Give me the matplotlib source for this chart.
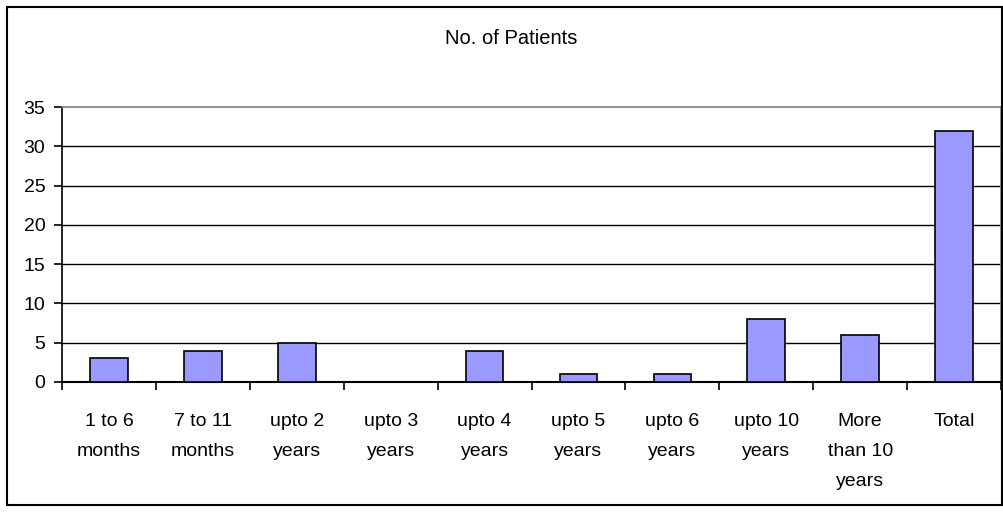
import matplotlib
matplotlib.use("Agg")
import matplotlib.pyplot as plt
from matplotlib.patches import Rectangle
import numpy as np

categories = ["1 to 6\nmonths", "7 to 11\nmonths", "upto 2\nyears", "upto 3\nyears",
              "upto 4\nyears", "upto 5\nyears", "upto 6\nyears", "upto 10\nyears",
              "More\nthan 10\nyears", "Total"]
patients = [3, 4, 5, 0, 4, 1, 1, 8, 6, 32]
yticks = [0, 5, 10, 15, 20, 25, 30, 35]
title = "No. of Patients"

plt.rcParams['font.family'] = ['Liberation Sans', 'DejaVu Sans']

W, H = 1004, 512
fig = plt.figure(figsize=(W / 100, H / 100), dpi=100)
fig.patch.set_facecolor("white")

# outer chart border
fig.patches.append(Rectangle((7 / W, 7 / H), (1002 - 7) / W, (505 - 7) / H,
                             transform=fig.transFigure, fill=False,
                             edgecolor="black", linewidth=1.5))

left, right, top, bottom = 62, 1001, 107, 382
ax = fig.add_axes([left / W, (H - bottom) / H, (right - left) / W, (bottom - top) / H])

x = np.arange(len(categories))
ax.bar(x, patients, width=0.4, color="#9999FF", edgecolor="black", linewidth=1.2, zorder=3)

ax.set_xlim(-0.5, len(categories) - 0.5)
ax.set_ylim(0, 35)
ax.set_yticks(yticks)
ax.set_yticklabels([str(v) for v in yticks], fontsize=14)
for v in yticks[1:-1]:
    ax.axhline(v, color="black", linewidth=1.0, zorder=1)

ax.set_xticks(np.arange(-0.5, len(categories), 1.0))
ax.set_xticklabels([])
ax.set_xticks(x, minor=True)
ax.set_xticklabels(categories, minor=True, fontsize=14, linespacing=2.0, va="top")
ax.tick_params(axis="x", which="major", direction="out", length=6, width=1.2, color="black")
ax.tick_params(axis="x", which="minor", length=0, pad=22)
ax.tick_params(axis="y", direction="out", length=6, width=1.2, pad=6)

ax.spines["left"].set_linewidth(1.2)
ax.spines["bottom"].set_linewidth(1.5)
ax.spines["top"].set_color("#808080")
ax.spines["right"].set_color("#808080")
ax.spines["top"].set_linewidth(1.2)
ax.spines["right"].set_linewidth(1.2)

fig.text(511 / W, 1 - 39 / H, title, ha="center", va="center", fontsize=14.5)

fig.savefig("out.png", dpi=100)
